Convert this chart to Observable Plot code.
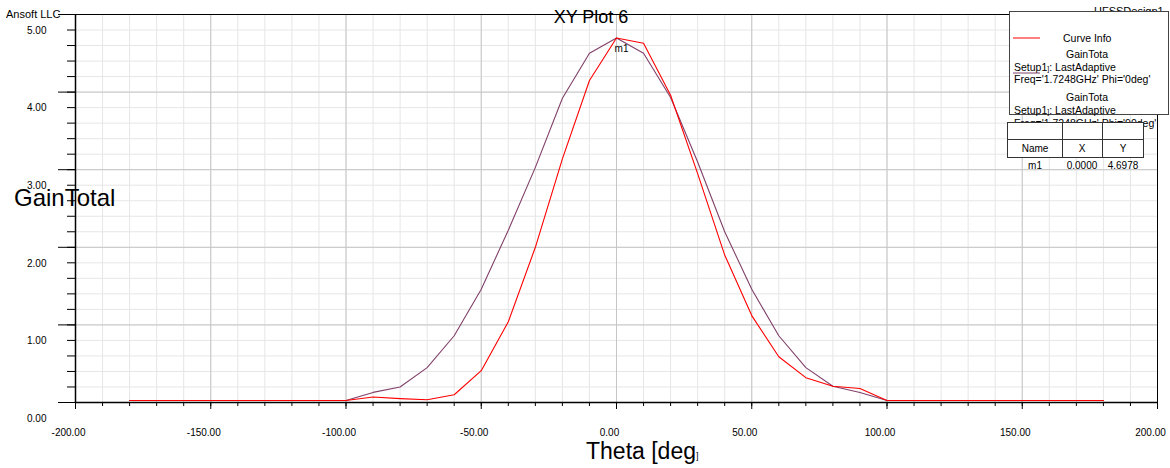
<!DOCTYPE html>
<html><head><meta charset="utf-8">
<script src="https://cdn.jsdelivr.net/npm/d3@7"></script>
<script src="https://cdn.jsdelivr.net/npm/@observablehq/plot@0.6"></script>
<style>
body{margin:0;background:#fff;}
#wrap{position:relative;width:1170px;height:468px;overflow:hidden;background:#fff;}
#wrap svg{position:absolute;left:0;top:0;}
</style></head><body><div id="wrap"></div>
<script>
// ---- data ----
const theta = [-180,-170,-160,-150,-140,-130,-120,-110,-100,-90,-80,-70,-60,-50,-40,-30,-20,-10,0,10,20,30,40,50,60,70,80,90,100,110,120,130,140,150,160,170,180];
const gainPhi0 = [0.025,0.025,0.025,0.025,0.025,0.025,0.025,0.025,0.025,0.07,0.05,0.035,0.10,0.41,1.04,2.00,3.14,4.15,4.6978,4.63,3.96,2.95,1.90,1.12,0.59,0.32,0.21,0.18,0.025,0.025,0.025,0.025,0.025,0.025,0.025,0.025,0.025];
const gainPhi90 = [0.025,0.025,0.025,0.025,0.025,0.025,0.025,0.025,0.025,0.13,0.20,0.45,0.86,1.46,2.22,3.03,3.92,4.50,4.6978,4.50,3.93,3.10,2.20,1.46,0.86,0.45,0.21,0.13,0.025,0.025,0.025,0.025,0.025,0.025,0.025,0.025,0.025];
const xMajorTicks = [-200,-150,-100,-50,0,50,100,150,200];
const xMinorTicks = [-200,-190,-180,-170,-160,-150,-140,-130,-120,-110,-100,-90,-80,-70,-60,-50,-40,-30,-20,-10,0,10,20,30,40,50,60,70,80,90,100,110,120,130,140,150,160,170,180,190,200];
const yMajorTicks = [0,1,2,3,4,5];
const yMinorTicks = [0,0.2,0.4,0.6,0.8,1,1.2,1.4,1.6,1.8,2,2.2,2.4,2.6,2.8,3,3.2,3.4,3.6,3.8,4,4.2,4.4,4.6,4.8,5];
const markerNames = ["m1"];
const markerX = [0.0000];
const markerY = [4.6978];
const curveNames = ["Phi='0deg'","Phi='90deg'"];

const data0 = theta.map((t,i)=>({theta:t, gain:gainPhi0[i]}));
const data90 = theta.map((t,i)=>({theta:t, gain:gainPhi90[i]}));
const markers = markerNames.map((n,i)=>({name:n, x:markerX[i], y:markerY[i]}));

const FONT = "'Liberation Sans', Arial, sans-serif";
const RED = "#ff0000", PURPLE = "#80406a";

const chart = Plot.plot({
  width:1170, height:468,
  marginLeft:75, marginRight:13, marginTop:14, marginBottom:66,
  x:{domain:[-200,200], label:null},
  y:{domain:[0,5], label:null},
  style:{fontFamily:FONT, fontSize:"10px", background:"white", color:"#000"},
  marks:[
    Plot.gridX(xMinorTicks,{stroke:"#e6e6e6", strokeOpacity:1}),
    Plot.gridY(yMinorTicks,{stroke:"#e6e6e6", strokeOpacity:1}),
    Plot.gridX(xMajorTicks,{stroke:"#c6c6c6", strokeOpacity:1}),
    Plot.gridY(yMajorTicks,{stroke:"#c6c6c6", strokeOpacity:1}),
    Plot.frame({stroke:"#000"}),
    Plot.ruleY([0],{stroke:"#000", strokeWidth:1.5}),
    Plot.ruleX([-200],{stroke:"#000", strokeWidth:1.5}),
    Plot.axisX(xMinorTicks,{tickSize:4, tickFormat:()=>"", label:null}),
    Plot.axisX(xMajorTicks,{tickSize:7, tickFormat:()=>"", label:null}),
    Plot.axisX(xMajorTicks,{tickSize:0, tickPadding:26, dx:-7, tickFormat:d=>d.toFixed(2), label:null, fontSize:10}),
    Plot.axisY(yMinorTicks,{tickSize:8, tickFormat:()=>"", label:null}),
    Plot.axisY(yMajorTicks,{tickSize:17, tickFormat:()=>"", label:null}),
    Plot.axisY(yMajorTicks,{tickSize:0, tickPadding:29, dy:16, tickFormat:d=>d.toFixed(2), label:null, fontSize:10}),
    Plot.line(data90,{x:"theta", y:"gain", stroke:PURPLE, strokeWidth:1.1}),
    Plot.line(data0,{x:"theta", y:"gain", stroke:RED, strokeWidth:1.1}),
    Plot.text(markers,{x:"x", y:"y", text:"name", dx:5, dy:11, fontSize:10, fill:"#000"})
  ]
});
const wrap = document.getElementById("wrap");
wrap.appendChild(chart);

// ---- overlay annotations (title, labels, legend, marker table) ----
const ns = "http://www.w3.org/2000/svg";
const ov = document.createElementNS(ns,"svg");
ov.setAttribute("width",1170); ov.setAttribute("height",468);
ov.style.fontFamily = FONT;
wrap.appendChild(ov);
function el(tag, attrs, text){
  const e = document.createElementNS(ns, tag);
  for (const k in attrs) e.setAttribute(k, attrs[k]);
  if (text != null) e.textContent = text;
  ov.appendChild(e); return e;
}
function txt(x,y,s,size,anchor){ return el("text",{x, y, "font-size":size, "text-anchor":anchor||"start", fill:"#000"}, s); }

txt(6,18,"Ansoft LLC",11);
txt(591,23,"XY Plot 6",18,"middle");
txt(1094,15,"HFSSDesign1",11);
txt(14,206,"GainTotal",24);
const xl = txt(586,459,"Theta [deg",23);
const sp = document.createElementNS(ns,"tspan"); sp.setAttribute("font-size",9); sp.textContent="]"; xl.appendChild(sp);

// legend box
el("rect",{x:1009.5, y:11.5, width:159, height:103, fill:"#fff", stroke:"#444"});
el("line",{x1:1013, x2:1040, y1:38, y2:38, stroke:RED, "stroke-width":1});
txt(1063,42,"Curve Info",10.5);
txt(1087,58,"GainTota",10.5,"middle");
const s1 = txt(1014,71,"Setup1",10.5); const b1=document.createElementNS(ns,"tspan"); b1.setAttribute("font-size",7); b1.textContent="]"; s1.appendChild(b1); s1.appendChild(document.createTextNode(": LastAdaptive"));
txt(1014,83,"Freq='1.7248GHz' "+curveNames[0],10.5);
el("line",{x1:1013, x2:1040, y1:73, y2:73, stroke:PURPLE, "stroke-width":1});
txt(1087,101,"GainTota",10.5,"middle");
const s2 = txt(1014,114,"Setup1",10.5); const b2=document.createElementNS(ns,"tspan"); b2.setAttribute("font-size",7); b2.textContent="]"; s2.appendChild(b2); s2.appendChild(document.createTextNode(": LastAdaptive"));
txt(1014,127,"Freq='1.7248GHz' "+curveNames[1],10.5);

// marker table
el("rect",{x:1007.5, y:122.5, width:136, height:35, fill:"#fff", stroke:"#333"});
el("line",{x1:1007.5, x2:1143.5, y1:139.5, y2:139.5, stroke:"#333"});
el("line",{x1:1062.5, x2:1062.5, y1:122.5, y2:157.5, stroke:"#333"});
el("line",{x1:1102.5, x2:1102.5, y1:122.5, y2:157.5, stroke:"#333"});
txt(1035,152,"Name",10,"middle");
txt(1082,152,"X",10,"middle");
txt(1123,152,"Y",10,"middle");
markers.forEach((m,i)=>{
  txt(1035,169+i*14,m.name,10,"middle");
  txt(1082,169+i*14,m.x.toFixed(4),10,"middle");
  txt(1123,169+i*14,m.y.toFixed(4),10,"middle");
});
</script></body></html>
